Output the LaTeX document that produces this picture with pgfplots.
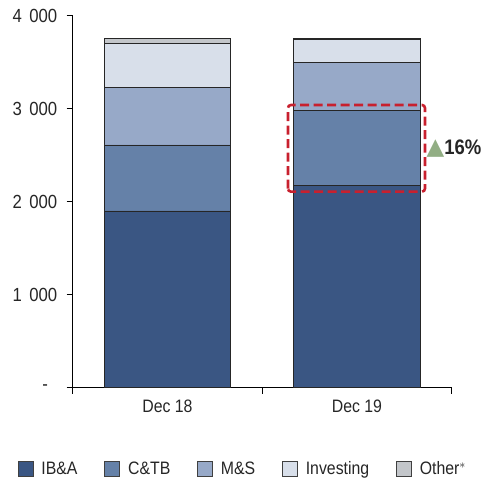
\documentclass[border=0pt]{standalone}
\usepackage{pgfplots}
\pgfplotsset{compat=1.18}
\usepackage{fontspec}
\setmainfont[FakeStretch=0.88]{Liberation Sans}
\newfontfamily\symfont{DejaVu Sans}

\definecolor{iba}{HTML}{3A5683}
\definecolor{ctb}{HTML}{6581A8}
\definecolor{ms}{HTML}{97A9C8}
\definecolor{inv}{HTML}{D8DFEA}
\definecolor{oth}{HTML}{C3C6CA}
\definecolor{redbox}{HTML}{C8202E}
\definecolor{upgreen}{HTML}{92AE84}
\definecolor{txt}{HTML}{262626}

\newcommand{\thsp}{\hspace{0.38em}}

\begin{document}
\begin{tikzpicture}
% fixed page frame around the 379 x 372 plot area
\path[use as bounding box] (-72.7pt,-94.3pt) rectangle (412.3pt,387.7pt);
\begin{axis}[
  scale only axis,
  width=379pt, height=372pt,
  ybar stacked,
  bar width=0.665,
  xmin=-0.5, xmax=1.5,
  ymin=0, ymax=4000,
  axis x line=bottom, axis y line=left,
  axis line style={line width=1pt, -},
  xtick={-0.5,0.5,1.5},
  xticklabels={},
  extra x ticks={0,1},
  extra x tick labels={Dec 18, Dec 19},
  extra x tick style={major tick length=0pt, xticklabel style={yshift=-9pt}},
  ytick={0,1000,2000,3000,4000},
  yticklabels={-\hphantom{0}, 1\thsp000, 2\thsp000, 3\thsp000, 4\thsp000},
  tick align=outside,
  major tick length=6pt,
  tick style={black, line width=1pt},
  ticklabel style={font=\fontsize{18}{21}\selectfont, text=txt},
  yticklabel style={xshift=-6pt, font=\fontsize{19}{22}\selectfont},
  legend columns=5,
  legend style={draw=none, at={(0.449,-0.2186)}, anchor=center,
    font=\fontsize{18}{21}\selectfont, text=txt,
    /tikz/every odd column/.append style={column sep=6pt},
    /tikz/every even column/.append style={column sep=25pt}},
  legend image code/.code={\draw[#1, draw=black!75, line width=0.6pt] (0pt,-7.5pt) rectangle (15pt,7.5pt);},
  every axis plot/.append style={draw=black!85, line width=0.9pt},
  clip=false,
]
\addplot[fill=iba] coordinates {(0,1900) (1,2170)};
\addplot[fill=ctb] coordinates {(0,710) (1,815)};
\addplot[fill=ms]  coordinates {(0,615) (1,510)};
\addplot[fill=inv] coordinates {(0,475) (1,250)};
\addplot[fill=oth] coordinates {(0,60) (1,15)};
\legend{IB\&A, C\&TB, M\&S, Investing, Other$^{*}$}

\coordinate (boxSW) at (axis cs:0.636,2108);
\coordinate (boxNE) at (axis cs:1.359,3040);
\coordinate (pct) at (axis cs:1.367,2575);
\end{axis}
% highlighted C&TB segment of Dec 19
\draw[redbox, line width=2.6pt, dash pattern=on 9pt off 4.5pt, rounded corners=3pt]
  (boxSW) rectangle (boxNE);
\node[anchor=west, inner sep=0pt, text=txt] at (pct)
  {{\symfont\color{upgreen}\fontsize{23}{24}\selectfont▲}\fontsize{21}{23}\selectfont\bfseries 16\%};
\end{tikzpicture}
\end{document}
